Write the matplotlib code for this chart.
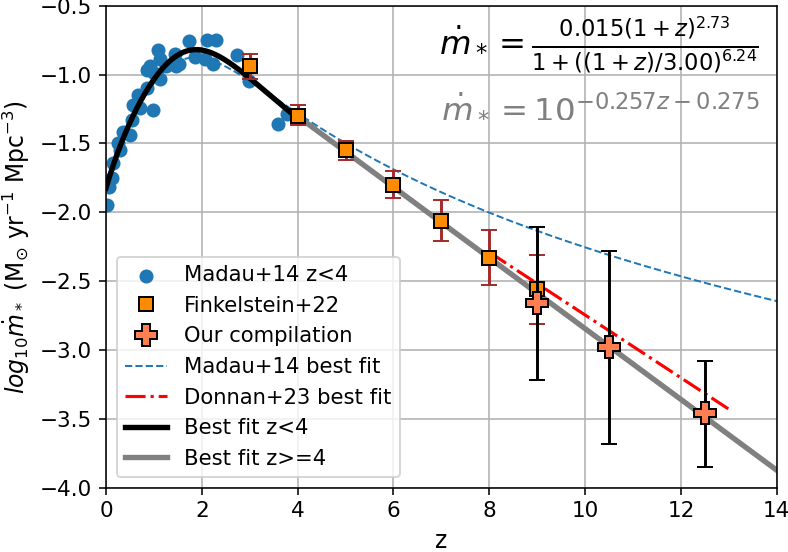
import numpy as np
import matplotlib
matplotlib.use("Agg")
import matplotlib.pyplot as plt

plt.rcParams['font.size'] = 11

# Madau & Dickinson 2014 compilation, z < 4
madau_z = [0.03, 0.06, 0.12, 0.15, 0.26, 0.30, 0.36, 0.50, 0.54, 0.57, 0.67, 0.71,
           0.85, 0.85, 0.90, 0.92, 0.99, 1.00, 1.09, 1.13, 1.13, 1.25, 1.44, 1.47,
           1.52, 1.74, 1.86, 2.07, 2.10, 2.24, 2.30, 2.74, 2.99, 3.60, 3.77]
madau_sfr = [-1.95, -1.82, -1.75, -1.64, -1.50, -1.55, -1.42, -1.44, -1.33, -1.22, -1.15, -1.24,
             -1.10, -0.97, -0.96, -0.94, -1.26, -0.99, -0.82, -0.89, -1.03, -0.94, -0.85, -0.94,
             -0.92, -0.76, -0.87, -0.89, -0.75, -0.92, -0.75, -0.86, -1.05, -1.36, -1.29]

# Finkelstein+22
fink_z = [3, 4, 5, 6, 7, 8, 9]
fink_sfr = [-0.94, -1.30, -1.55, -1.80, -2.06, -2.33, -2.56]
fink_up = [0.09, 0.08, 0.07, 0.10, 0.15, 0.20, 0.25]
fink_lo = [0.09, 0.07, 0.07, 0.10, 0.15, 0.20, 0.25]

# our compilation
our_z = [9.0, 10.5, 12.5]
our_sfr = [-2.66, -2.98, -3.46]
our_up = [0.55, 0.70, 0.38]
our_lo = [0.56, 0.70, 0.39]

# Donnan+23 best fit (end points)
donnan_z = [8.0, 13.0]
donnan_sfr = [-2.29, -3.43]

# fit parameters shown on the plot
madau_pars = (0.015, 2.7, 2.9, 5.6)
lowz_pars = (0.015, 2.73, 3.00, 6.24)
slope, icpt = -0.257, -0.275


def md_sfr(z, a, b, c, d):
    return np.log10(a * (1 + z) ** b / (1 + ((1 + z) / c) ** d))


fig = plt.figure(figsize=(788 / 141, 552 / 141), dpi=141)
fig.subplots_adjust(left=0.1345, right=0.9857, top=0.9897, bottom=0.1165)
ax = fig.gca()

zz = np.linspace(0, 14, 300)
zlo = np.linspace(0, 4, 200)
zhi = np.linspace(4, 14, 50)

l_md, = ax.plot(zz, md_sfr(zz, *madau_pars), '--', color='tab:blue', lw=1, zorder=2)
s_md = ax.scatter(madau_z, madau_sfr, s=38, color='tab:blue', zorder=1)
l_dn, = ax.plot(donnan_z, donnan_sfr, '-.', color='red', lw=1.6, zorder=2)
l_hi, = ax.plot(zhi, slope * zhi + icpt, color='gray', lw=2.75, zorder=2)
l_lo, = ax.plot(zlo, md_sfr(zlo, *lowz_pars), color='black', lw=2.75, zorder=3)

ax.errorbar(fink_z, fink_sfr, yerr=[fink_lo, fink_up], fmt='none', ecolor='brown',
            capsize=4, zorder=4)
m_fk, = ax.plot(fink_z, fink_sfr, 's', color='darkorange', mec='black', ms=7, zorder=4)
ax.errorbar(our_z, our_sfr, yerr=[our_lo, our_up], fmt='none', ecolor='black',
            capsize=4, zorder=5)
m_us, = ax.plot(our_z, our_sfr, 'P', color='coral', mec='black', ms=11, zorder=5)

ax.text(0.974, 0.919, r'$\dot{m}_* = \frac{0.015(1+z)^{2.73}}{1+((1+z)/3.00)^{6.24}}$',
        transform=ax.transAxes, ha='right', va='center', fontsize=16.5)
ax.text(0.974, 0.787, r'$\dot{m}_* = 10^{-0.257z - 0.275}$', color='gray',
        transform=ax.transAxes, ha='right', va='center', fontsize=16.5)

ax.set_xlim(0, 14)
ax.set_ylim(-4, -0.5)
ax.grid()
ax.set_axisbelow(True)
ax.set_xlabel('z', fontsize=12)
ax.set_ylabel(r'$log_{10}\dot{m}_*$ (M$_{\odot}$ yr$^{-1}$ Mpc$^{-3}$)', fontsize=12)

ax.legend([s_md, m_fk, m_us, l_md, l_dn, l_lo, l_hi],
          ['Madau+14 z<4', 'Finkelstein+22', 'Our compilation', 'Madau+14 best fit',
           'Donnan+23 best fit', 'Best fit z<4', 'Best fit z>=4'], loc='lower left',
          fontsize=10.8)

fig.savefig('out.png', dpi=141)
